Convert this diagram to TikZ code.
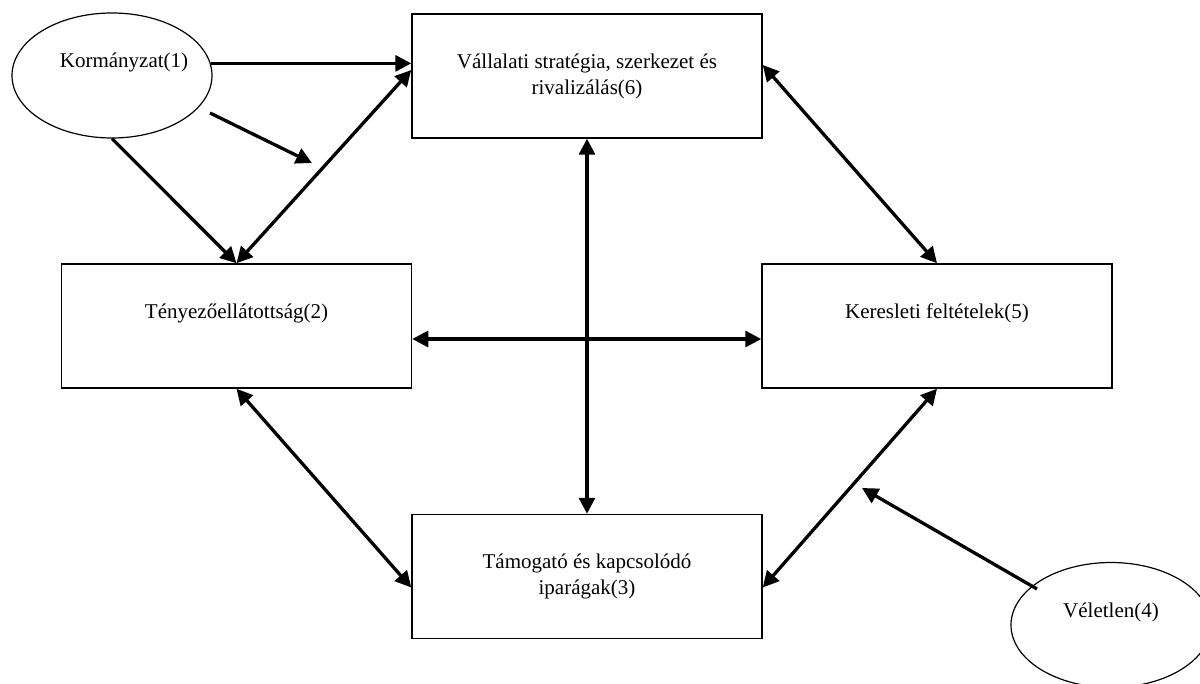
\documentclass[tikz,border=0pt]{standalone}
\usepackage{fontspec}
\setmainfont{Liberation Serif}
\usetikzlibrary{arrows.meta,shapes.geometric,calc}
\begin{document}
\begin{tikzpicture}[x=1pt,y=-1pt,
  txt/.style={font=\fontsize{21}{26}\selectfont},
  box/.style={txt,draw,line width=1.5pt,minimum width=350pt,minimum height=124pt,inner sep=0pt,align=center},
  oval/.style={txt,draw,ellipse,line width=1.2pt,minimum width=200pt,minimum height=125pt,inner sep=0pt,align=center},
  link/.style={line width=3.3pt,-{Triangle[length=16pt,width=16pt]}},
  both/.style={line width=3.3pt,{Triangle[length=16pt,width=16pt]}-{Triangle[length=16pt,width=16pt]}}]
\useasboundingbox (0,0) rectangle (1200,684);

\node[box] (vall) at (587,76) {\strut Vállalati stratégia, szerkezet és\\\strut rivalizálás(6)};
\node[box] (tenyezo) at (236.5,326) {\strut Tényezőellátottság(2)\\\strut};
\node[box] (kereslet) at (937,326) {\strut Keresleti feltételek(5)\\\strut};
\node[box] (tamogato) at (587,576.5) {\strut Támogató és kapcsolódó\\\strut iparágak(3)};
\node[oval] (korm) at (112,75.5) {\makebox[0pt]{\hspace*{24pt}\strut Kormányzat(1)}\\\strut};
\node[oval] (velet) at (1111,625) {\makebox[0pt]{\strut Véletlen(4)}\\\strut};

\draw[link] (korm.7) -- (korm.7 -| vall.west);
\draw[link] (korm.south) -- (tenyezo.north);
\draw[both] ($(vall.west)+(0,-6)$) -- (tenyezo.north);
\draw[both] ($(vall.east)+(0,-11)$) -- (kereslet.north);
\draw[both] (vall.south) -- (tamogato.north);
\draw[both] ($(tenyezo.east)+(0,13)$) -- ($(kereslet.west)+(0,13)$);
\draw[both] (tenyezo.south) -- ($(tamogato.west)+(0,11)$);
\draw[both] (kereslet.south) -- ($(tamogato.east)+(0,11)$);

\coordinate (g1) at (210,113);
\coordinate (g2) at (312,163);
\draw[link] (g1) -- (g2);
\coordinate (c1) at (1037,589);
\coordinate (c2) at (862,488);
\draw[link] (c1) -- (c2);
\end{tikzpicture}
\end{document}
